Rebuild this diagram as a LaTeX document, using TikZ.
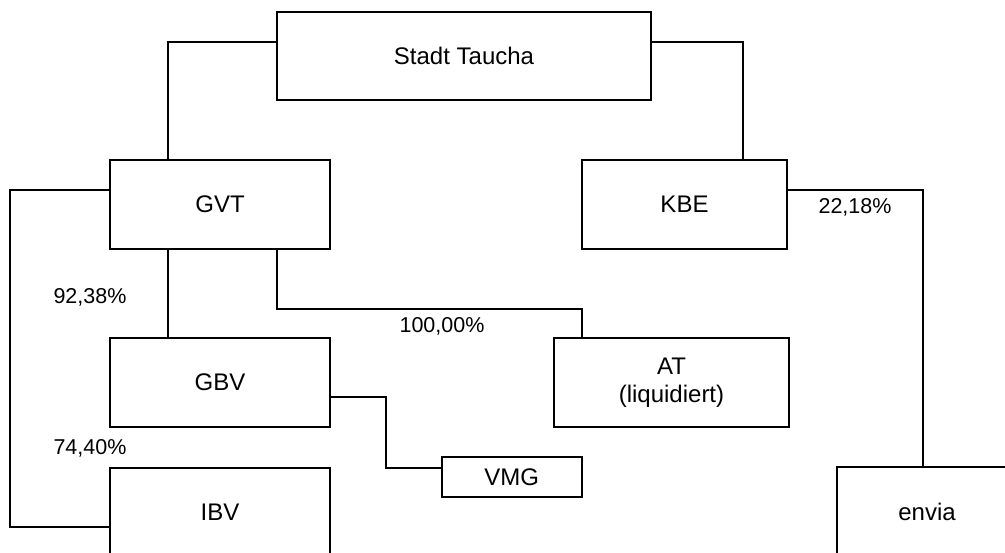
\documentclass[tikz,border=0pt]{standalone}
\usepackage{fontspec}
\setmainfont{Liberation Sans}
\begin{document}
\begin{tikzpicture}[x=1pt,y=-1pt,
  box/.style={draw=black,line width=1.6pt,fill=white,inner sep=0pt,align=center,font=\fontsize{24}{28}\selectfont},
  pct/.style={inner sep=0pt,font=\fontsize{21.5}{24}\selectfont},
  conn/.style={draw=black,line width=1.6pt}]
\useasboundingbox (0,0) rectangle (1005,553);
\clip (0,0) rectangle (1005,553);
\node[box,minimum width=374pt,minimum height=88pt] (st) at (464,56) {Stadt Taucha};
\node[box,minimum width=220pt,minimum height=89pt] (gvt) at (220,204.5) {GVT};
\node[box,minimum width=205pt,minimum height=89pt] (kbe) at (684.5,204.5) {KBE};
\node[box,minimum width=220pt,minimum height=89pt] (gbv) at (220,382.5) {GBV};
\node[box,minimum width=235pt,minimum height=89pt] (at) at (671.5,382.5) {AT\\(liquidiert)};
\node[box,minimum width=140pt,minimum height=40.5pt] (vmg) at (511.8,477) {VMG};
\node[box,minimum width=220pt,minimum height=89pt] (ibv) at (220,512.5) {IBV};
\node[box,minimum width=180pt,minimum height=89pt] (envia) at (927,511.5) {envia};
\draw[conn] (st.west|-0,42) -| (gvt.north-|168,0);
\draw[conn] (st.east|-0,42) -| (kbe.north-|743,0);
\draw[conn] (gvt.west|-0,190) -- (10,190) -- (10,527) -- (ibv.west|-0,527);
\draw[conn] (gvt.south-|168,0) -- (gbv.north-|168,0);
\draw[conn] (gvt.south-|277,0) -- (277,309) -| (at.north-|582,0);
\draw[conn] (kbe.east|-0,190) -| (envia.north-|923,0);
\draw[conn] (gbv.east|-0,397) -- (386,397) |- (vmg.west|-0,468);
\node[pct] (p1) at (90,297) {92,38\%};
\node[pct] (p2) at (90,448) {74,40\%};
\node[pct] (p3) at (442,326) {100,00\%};
\node[pct] (p4) at (855,207) {22,18\%};
\end{tikzpicture}
\end{document}
